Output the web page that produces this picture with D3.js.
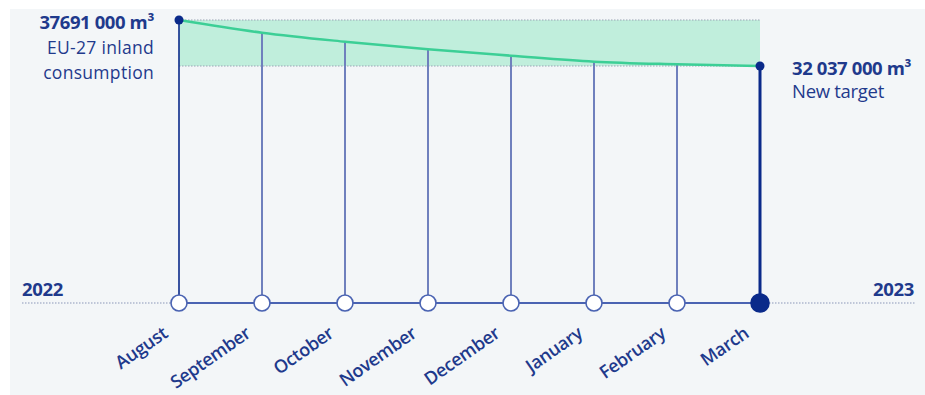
<!DOCTYPE html>
<html><head><meta charset="utf-8">
<script src="https://cdn.jsdelivr.net/npm/d3@7"></script>
<style>
html,body{margin:0;padding:0;background:#fff;}
svg{display:block;}
text{font-family:"Open Sans","Noto Sans",sans-serif;fill:#1f3a8c;}
</style></head>
<body>
<svg id="chart" width="925" height="395"></svg>
<script>
const months = ["August","September","October","November","December","January","February","March"];
const consumption = [37691000, 36130000, 35024000, 34090000, 33303000, 32566000, 32246000, 32037000];
const startValue = 37691000;
const targetValue = 32037000;
const startLabel = ["37691 000 m³", "EU-27 inland", "consumption"];
const targetLabel = ["32 037 000 m³", "New target"];
const years = ["2022", "2023"];

const svg = d3.select("#chart");
const W = 925, H = 395;
svg.append("rect").attr("x", 10).attr("y", 9).attr("width", W - 10).attr("height", H - 9).attr("fill", "#f3f6f8");

const x = d3.scalePoint().domain(months).range([179, 760]);
const y = d3.scaleLinear().domain([targetValue, startValue]).range([66, 20]);
const baseY = 303;
const navy = "#0a2a8a";
const stemC = "#6f80bd";
const axisC = "#4a63b2";

// band
svg.append("rect")
  .attr("x", x(months[0])).attr("y", y(startValue))
  .attr("width", x(months[months.length-1]) - x(months[0]))
  .attr("height", y(targetValue) - y(startValue))
  .attr("fill", "#c0eedc");
[startValue, targetValue].forEach(v => {
  svg.append("line")
    .attr("x1", x(months[0])).attr("x2", x(months[months.length-1]))
    .attr("y1", y(v)).attr("y2", y(v))
    .attr("stroke", "#9aa5b5").attr("stroke-width", 1).attr("stroke-dasharray", "1.5,1.5");
});

// axis line dotted extensions
svg.append("line").attr("x1", 22).attr("x2", x(months[0])).attr("y1", baseY).attr("y2", baseY)
  .attr("stroke", "#8a97b8").attr("stroke-width", 1).attr("stroke-dasharray", "1.5,1.5");
svg.append("line").attr("x1", x(months[months.length-1])).attr("x2", 916).attr("y1", baseY).attr("y2", baseY)
  .attr("stroke", "#8a97b8").attr("stroke-width", 1).attr("stroke-dasharray", "1.5,1.5");
svg.append("line").attr("x1", x(months[0])).attr("x2", x(months[months.length-1])).attr("y1", baseY).attr("y2", baseY)
  .attr("stroke", axisC).attr("stroke-width", 2);

// stems
months.forEach((m, i) => {
  const last = i === months.length - 1, first = i === 0;
  svg.append("line")
    .attr("x1", x(m)).attr("x2", x(m))
    .attr("y1", baseY).attr("y2", y(consumption[i]))
    .attr("stroke", first || last ? navy : stemC)
    .attr("stroke-width", last ? 3 : (first ? 1.6 : 2));
});

// curve
const line = d3.line().x((d, i) => x(months[i])).y(d => y(d)).curve(d3.curveMonotoneX);
svg.append("path").datum(consumption).attr("d", line)
  .attr("fill", "none").attr("stroke", "#3ccf96").attr("stroke-width", 2.5);

// end dots
svg.append("circle").attr("cx", x(months[0])).attr("cy", y(startValue)).attr("r", 4.5).attr("fill", navy);
svg.append("circle").attr("cx", x(months[months.length-1])).attr("cy", y(targetValue)).attr("r", 4.5).attr("fill", navy);

// axis circles
months.forEach((m, i) => {
  const last = i === months.length - 1;
  svg.append("circle").attr("cx", x(m)).attr("cy", baseY)
    .attr("r", last ? 9 : 8)
    .attr("fill", last ? navy : "#fff")
    .attr("stroke", last ? navy : axisC).attr("stroke-width", 1.6);
});

// month labels
months.forEach(m => {
  svg.append("text")
    .attr("transform", `translate(${x(m) - 10},${baseY + 33}) rotate(-35)`)
    .attr("text-anchor", "end")
    .attr("font-size", 18).attr("font-weight", 600)
    .attr("letter-spacing", -0.3)
    .text(m);
});

// year labels
svg.append("text").attr("x", 22).attr("y", 296).attr("font-size", 18.5).attr("font-weight", 700).attr("letter-spacing", -0.3).text(years[0]);
svg.append("text").attr("x", 914).attr("y", 296).attr("text-anchor", "end").attr("font-size", 18.5).attr("font-weight", 700).attr("letter-spacing", -0.3).text(years[1]);

// start labels
svg.append("text").attr("x", 154).attr("y", 29).attr("text-anchor", "end").attr("font-size", 18.5).attr("font-weight", 700).attr("letter-spacing", -0.4).text(startLabel[0]);
svg.append("text").attr("x", 154).attr("y", 54).attr("text-anchor", "end").attr("font-size", 17.5).attr("font-weight", 500).attr("letter-spacing", 0.3).text(startLabel[1]);
svg.append("text").attr("x", 154).attr("y", 78.5).attr("text-anchor", "end").attr("font-size", 17.5).attr("font-weight", 500).attr("letter-spacing", 0.3).text(startLabel[2]);

// target labels
svg.append("text").attr("x", 792).attr("y", 75).attr("font-size", 18.5).attr("font-weight", 700).attr("letter-spacing", -0.4).text(targetLabel[0]);
svg.append("text").attr("x", 792).attr("y", 98).attr("font-size", 18.5).attr("font-weight", 500).attr("letter-spacing", -0.3).text(targetLabel[1]);
</script>
</body></html>
